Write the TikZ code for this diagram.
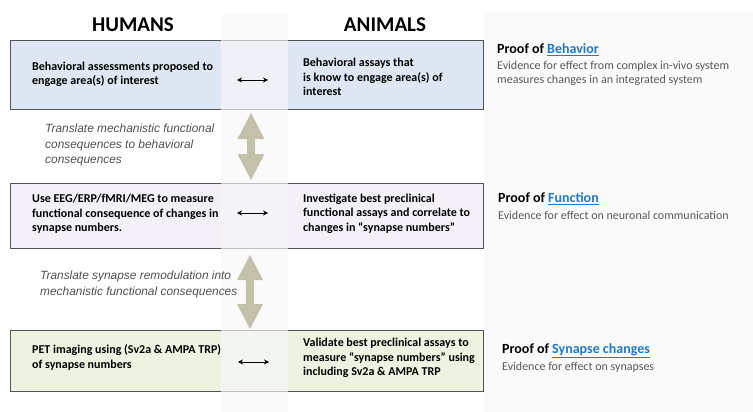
\documentclass[tikz,border=0pt]{standalone}
\usepackage{fontspec}
\setmainfont{Carlito}
\newfontfamily\arialf{Liberation Sans}
\usetikzlibrary{arrows.meta}
\definecolor{bluebox}{RGB}{222,231,243}
\definecolor{purplebox}{RGB}{244,240,247}
\definecolor{greenbox}{RGB}{236,243,224}
\definecolor{boxline}{RGB}{85,85,85}
\definecolor{bandcol}{RGB}{247,247,249}
\definecolor{panelcol}{RGB}{250,250,250}
\definecolor{bigarrow}{RGB}{196,193,170}
\definecolor{notegray}{RGB}{80,80,80}
\definecolor{evgray}{RGB}{89,89,89}
\definecolor{linkblue}{RGB}{31,120,200}
\tikzset{
  rowbox/.style={draw=boxline, line width=1.2pt, minimum width=473pt, inner sep=0pt, anchor=north west},
  boxtext/.style={font=\bfseries\fontsize{12}{14.3}\selectfont, align=left, anchor=west, inner sep=0pt, text=black},
  header/.style={font=\bfseries\fontsize{21}{24}\selectfont, inner sep=0pt},
  note/.style={font=\arialf\itshape\fontsize{11.9}{15.5}\selectfont, align=left, anchor=west, inner sep=0pt, text=notegray},
  prooftitle/.style={font=\bfseries\fontsize{14}{16}\selectfont, anchor=west, inner sep=0pt},
  evidence/.style={font=\fontsize{12}{14}\selectfont, align=left, anchor=west, inner sep=0pt, text=evgray},
  linkarrow/.style={{Stealth[length=5pt,width=5pt]}-{Stealth[length=5pt,width=5pt]}, line width=0.8pt},
  bigdouble/.style={fill=bigarrow}
}
\newcommand{\lnk}[1]{\textcolor{linkblue}{\underline{#1}}}
\begin{document}
\begin{tikzpicture}[x=1pt,y=-1pt]
\useasboundingbox (0,0) rectangle (753,412);
% right panel
\fill[panelcol] (484,12) rectangle (753,412);
% headers
\node[header] (hh) at (133,25) {HUMANS};
\node[header] (ha) at (385,25) {ANIMALS};
% boxes
\node[rowbox, fill=bluebox, minimum height=69pt] (b1) at (10,40) {};
\node[rowbox, fill=purplebox, minimum height=65pt] (b2) at (10,183) {};
\node[rowbox, fill=greenbox, minimum height=61pt] (b3) at (10,330) {};
% middle band
\fill[bandcol, opacity=0.65] (221,14) rectangle (288,412);
% box texts
\node[boxtext] (t1l) at (32,74) {Behavioral assessments proposed to\\engage area(s) of interest};
\node[boxtext] (t1r) at (303,77) {Behavioral assays that\\is know to engage area(s) of\\interest};
\node[boxtext] (t2l) at (32,214) {Use EEG/ERP/fMRI/MEG to measure\\functional consequence of changes in\\synapse numbers.};
\node[boxtext] (t2r) at (303,213.5) {Investigate best preclinical\\functional assays and correlate to\\changes in “synapse numbers”};
\node[boxtext] (t3l) at (32,357.5) {PET imaging using (Sv2a \& AMPA TRP)\\of synapse numbers};
\node[boxtext] (t3r) at (303,358) {Validate best preclinical assays to\\measure “synapse numbers” using\\including Sv2a \& AMPA TRP};
% small link arrows
\coordinate (l1a) at (237,80); \coordinate (l1b) at (268,80);
\coordinate (l2a) at (237,213); \coordinate (l2b) at (268,213);
\coordinate (l3a) at (238,362); \coordinate (l3b) at (269,362);
\draw[linkarrow] (l1a) -- (l1b);
\draw[linkarrow] (l2a) -- (l2b);
\draw[linkarrow] (l3a) -- (l3b);
% big double arrows
\fill[bigdouble] (251,113) -- (264.5,139) -- (255,139) -- (255,154) -- (264.5,154) -- (251,180)
  -- (237.5,154) -- (247,154) -- (247,139) -- (237.5,139) -- cycle;
\fill[bigdouble] (250,255) -- (263,280) -- (254,280) -- (254,304) -- (263,304) -- (250,329)
  -- (237,304) -- (246,304) -- (246,280) -- (237,280) -- cycle;
% notes
\node[note] (n1) at (45,145) {Translate mechanistic functional\\consequences to behavioral\\consequences};
\node[note] (n2) at (40,284.5) {Translate synapse remodulation into\\mechanistic functional consequences};
% right column
\node[prooftitle] (p1) at (497,50) {Proof of \lnk{Behavior}};
\node[evidence] (e1) at (497,73) {Evidence for effect from complex in-vivo system\\measures changes in an integrated system};
\node[prooftitle] (p2) at (498,199) {Proof of \lnk{Function}};
\node[evidence] (e2) at (498,215) {Evidence for effect on neuronal communication};
\node[prooftitle] (p3) at (502,351) {Proof of \lnk{Synapse changes}};
\node[evidence] (e3) at (502,367) {Evidence for effect on synapses};
\end{tikzpicture}
\end{document}
